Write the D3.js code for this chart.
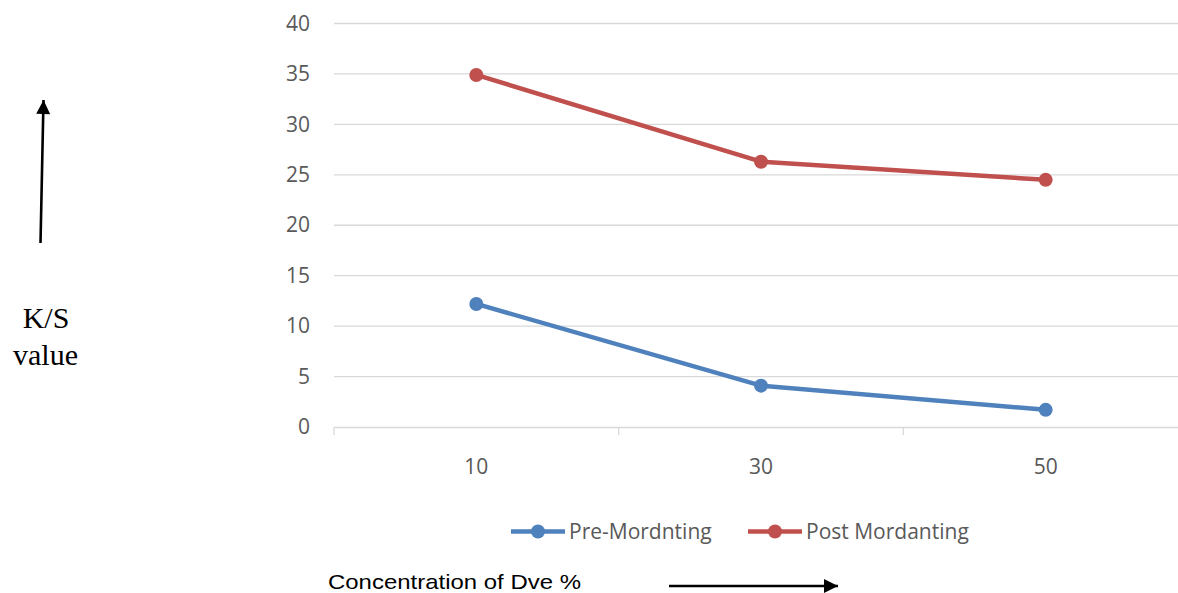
<!DOCTYPE html>
<html>
<head>
<meta charset="utf-8">
<script src="https://cdn.jsdelivr.net/npm/d3@7"></script>
<style>
  html, body { margin: 0; padding: 0; background: #fff; }
  svg { display: block; }
</style>
</head>
<body>
<svg id="chart" width="1178" height="593"></svg>
<script>
// Dye concentration (%) and K/S values for each mordanting sequence
const categories = ["10", "30", "50"];
const preMordanting = [12.2, 4.1, 1.7];
const postMordanting = [34.9, 26.3, 24.5];
const yTicks = [0, 5, 10, 15, 20, 25, 30, 35, 40];
const seriesNames = ["Pre-Mordnting", "Post Mordanting"];
const seriesColors = ["#4f81bd", "#c0504d"];

const svg = d3.select("#chart");
const plotLeft = 334, plotRight = 1188, plotTop = 23.5, plotBottom = 427;
const tickFont = "'Open Sans', 'Noto Sans', sans-serif";
const tickSize = 21;

const x = d3.scaleBand().domain(categories).range([plotLeft, plotRight]);
const y = d3.scaleLinear().domain([0, 40]).range([plotBottom, plotTop]);

// horizontal gridlines
svg.append("g")
  .selectAll("line")
  .data(yTicks.filter(d => d > 0))
  .join("line")
  .attr("x1", plotLeft).attr("x2", plotRight)
  .attr("y1", d => y(d)).attr("y2", d => y(d))
  .attr("stroke", "#d9d9d9").attr("stroke-width", 1.3);

// y axis labels
const yAxis = d3.axisLeft(y).tickValues(yTicks).tickSize(0).tickPadding(0);
const gy = svg.append("g").attr("transform", `translate(${plotLeft - 24},0)`).call(yAxis);
gy.select(".domain").remove();
gy.selectAll("text")
  .attr("font-family", tickFont).attr("font-size", tickSize).attr("fill", "#595959");

// x axis with category-boundary ticks
const xAxis = d3.axisBottom(x).tickSize(0).tickPadding(0);
const gx = svg.append("g").attr("transform", `translate(0,${plotBottom})`).call(xAxis);
gx.select(".domain").attr("stroke", "#d9d9d9").attr("stroke-width", 1.3);
gx.selectAll("text")
  .attr("font-family", tickFont).attr("font-size", tickSize).attr("fill", "#595959")
  .attr("dy", 0).attr("y", 47);
gx.selectAll(".boundary")
  .data(categories)
  .join("line")
  .attr("class", "boundary")
  .attr("x1", d => x(d)).attr("x2", d => x(d))
  .attr("y1", 0).attr("y2", 8)
  .attr("stroke", "#d9d9d9").attr("stroke-width", 1.3);

// series lines and markers
const series = [preMordanting, postMordanting];
const line = d3.line()
  .x((d, i) => x(categories[i]) + x.bandwidth() / 2)
  .y(d => y(d));

series.forEach((vals, s) => {
  svg.append("path")
    .datum(vals)
    .attr("d", line)
    .attr("fill", "none")
    .attr("stroke", seriesColors[s])
    .attr("stroke-width", 4.5)
    .attr("stroke-linejoin", "round");
  svg.append("g")
    .selectAll("circle")
    .data(vals)
    .join("circle")
    .attr("cx", (d, i) => x(categories[i]) + x.bandwidth() / 2)
    .attr("cy", d => y(d))
    .attr("r", 7)
    .attr("fill", seriesColors[s]);
});

// legend
const legendItems = [
  { name: seriesNames[0], color: seriesColors[0], x0: 511 },
  { name: seriesNames[1], color: seriesColors[1], x0: 748 }
];
const legendY = 531.5;
legendItems.forEach(it => {
  const g = svg.append("g");
  g.append("line")
    .attr("x1", it.x0).attr("x2", it.x0 + 54)
    .attr("y1", legendY).attr("y2", legendY)
    .attr("stroke", it.color).attr("stroke-width", 4.5);
  g.append("circle")
    .attr("cx", it.x0 + 27).attr("cy", legendY).attr("r", 7)
    .attr("fill", it.color);
  g.append("text")
    .attr("x", it.x0 + 58).attr("y", legendY + 7.5)
    .attr("font-family", tickFont).attr("font-size", tickSize).attr("fill", "#595959")
    .text(it.name);
});

// arrowheads for the axis direction annotations
const defs = svg.append("defs");
defs.append("marker")
  .attr("id", "arrow")
  .attr("viewBox", "0 0 10 10")
  .attr("refX", 10).attr("refY", 5)
  .attr("markerWidth", 18).attr("markerHeight", 14)
  .attr("markerUnits", "userSpaceOnUse")
  .attr("orient", "auto")
  .append("path").attr("d", "M0,0 L10,5 L0,10 Z").attr("fill", "#000");

// vertical annotation: K/S value
svg.append("line")
  .attr("x1", 40.5).attr("y1", 243)
  .attr("x2", 43.5).attr("y2", 100)
  .attr("stroke", "#000").attr("stroke-width", 2.6)
  .attr("marker-end", "url(#arrow)");
const serif = "'Liberation Serif', 'Times New Roman', serif";
svg.append("text")
  .attr("x", 46).attr("y", 328)
  .attr("text-anchor", "middle")
  .attr("font-family", serif)
  .attr("font-size", 30).attr("fill", "#000")
  .text("K/S");
svg.append("text")
  .attr("x", 45.5).attr("y", 365)
  .attr("text-anchor", "middle")
  .attr("font-family", serif)
  .attr("font-size", 30).attr("fill", "#000")
  .text("value");

// horizontal annotation: dye concentration
svg.append("text")
  .attr("x", 328).attr("y", 588.5)
  .attr("font-family", "'Liberation Sans', Arial, sans-serif")
  .attr("font-size", 21).attr("fill", "#000")
  .attr("textLength", 253).attr("lengthAdjust", "spacingAndGlyphs")
  .text("Concentration of Dve %");
svg.append("line")
  .attr("x1", 669).attr("y1", 586)
  .attr("x2", 838).attr("y2", 586)
  .attr("stroke", "#000").attr("stroke-width", 2.6)
  .attr("marker-end", "url(#arrow)");
</script>
</body>
</html>
